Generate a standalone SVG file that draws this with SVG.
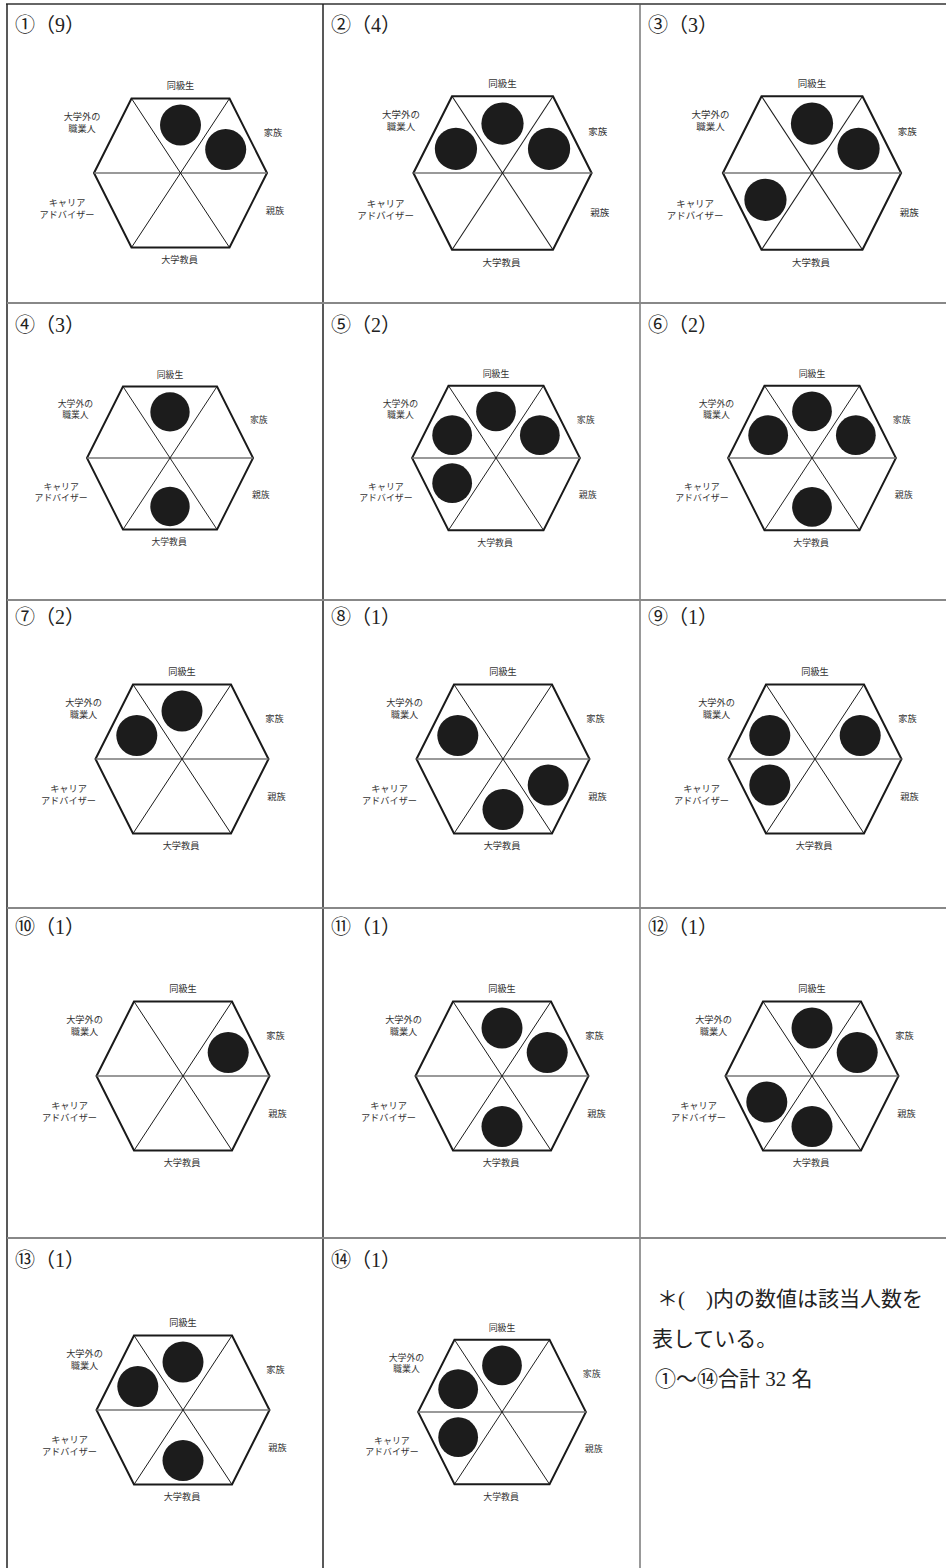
<svg xmlns="http://www.w3.org/2000/svg" xmlns:xlink="http://www.w3.org/1999/xlink" width="946" height="1568" viewBox="0 0 946 1568">
<defs>
<style>
.gv{stroke:#222;stroke-width:1.5}
.gv2{stroke:#555;stroke-width:1.2}
.gh{stroke:#888;stroke-width:2}
.gt{stroke:#333;stroke-width:1.5}
.ho{fill:none;stroke:#1a1a1a;stroke-width:2}
.hd{stroke:#1a1a1a;stroke-width:1}
.hm{stroke:#777;stroke-width:1.5}
.dot{fill:#1c1c1c}
.lbl{font-family:"Noto Sans CJK JP",sans-serif;font-size:9.2px;fill:#333;text-anchor:middle}
.cap{font-family:"Liberation Serif","Noto Sans CJK JP",serif;font-size:20px;fill:#222}
.note{font-family:"Liberation Serif","Noto Sans CJK JP",serif;font-size:21px;fill:#222}
</style>
<g id="hex">
<polygon class="ho" points="-86.5,0 -49,-74.5 49,-74.5 86.5,0 49,74.5 -49,74.5"/>
<line class="hm" x1="-86.5" y1="0" x2="86.5" y2="0"/>
<line class="hd" x1="-49" y1="-74.5" x2="49" y2="74.5"/>
<line class="hd" x1="49" y1="-74.5" x2="-49" y2="74.5"/>
</g>
</defs>
<rect width="946" height="1568" fill="#fff"/>
<g id="grid">
<line class="gt" x1="6" y1="4" x2="946" y2="4"/>
<line class="gv" x1="7" y1="4" x2="7" y2="1568"/>
<line class="gv" x1="323" y1="4" x2="323" y2="1568"/>
<line class="gv2" x1="640" y1="4" x2="640" y2="1568"/>
<line class="gh" x1="7" y1="303" x2="946" y2="303"/>
<line class="gh" x1="7" y1="600" x2="946" y2="600"/>
<line class="gh" x1="7" y1="908" x2="946" y2="908"/>
<line class="gh" x1="7" y1="1238" x2="946" y2="1238"/>
</g>

<g id="cell1">
<text class="cap" x="15" y="32">①（9）</text>
<g transform="translate(180.5,173)">
<use xlink:href="#hex"/>
<circle class="dot" cx="0" cy="-48" r="20.5"/>
<circle class="dot" cx="45.2" cy="-23.5" r="20.5"/>
<text class="lbl" x="0" y="-83.6">同級生</text>
<text class="lbl" x="-98.5" y="-53">大学外の</text>
<text class="lbl" x="-98.5" y="-41.5">職業人</text>
<text class="lbl" x="92.5" y="-36.6">家族</text>
<text class="lbl" x="-113.5" y="33">キャリア</text>
<text class="lbl" x="-113.5" y="44.5">アドバイザー</text>
<text class="lbl" x="94.5" y="41.4">親族</text>
<text class="lbl" x="-1" y="90.4">大学教員</text>
</g>
</g>

<g id="cell2">
<text class="cap" x="331" y="32">②（4）</text>
<g transform="translate(502.5,173) scale(1.03)">
<use xlink:href="#hex"/>
<circle class="dot" cx="-45.2" cy="-23.5" r="20.5"/>
<circle class="dot" cx="0" cy="-48" r="20.5"/>
<circle class="dot" cx="45.2" cy="-23.5" r="20.5"/>
<text class="lbl" x="0" y="-83.6">同級生</text>
<text class="lbl" x="-98.5" y="-53">大学外の</text>
<text class="lbl" x="-98.5" y="-41.5">職業人</text>
<text class="lbl" x="92.5" y="-36.6">家族</text>
<text class="lbl" x="-113.5" y="33">キャリア</text>
<text class="lbl" x="-113.5" y="44.5">アドバイザー</text>
<text class="lbl" x="94.5" y="41.4">親族</text>
<text class="lbl" x="-1" y="90.4">大学教員</text>
</g>
</g>

<g id="cell3">
<text class="cap" x="648" y="32">③（3）</text>
<g transform="translate(812,173) scale(1.03)">
<use xlink:href="#hex"/>
<circle class="dot" cx="0" cy="-48" r="20.5"/>
<circle class="dot" cx="45.2" cy="-23.5" r="20.5"/>
<circle class="dot" cx="-45.2" cy="26" r="20.5"/>
<text class="lbl" x="0" y="-83.6">同級生</text>
<text class="lbl" x="-98.5" y="-53">大学外の</text>
<text class="lbl" x="-98.5" y="-41.5">職業人</text>
<text class="lbl" x="92.5" y="-36.6">家族</text>
<text class="lbl" x="-113.5" y="33">キャリア</text>
<text class="lbl" x="-113.5" y="44.5">アドバイザー</text>
<text class="lbl" x="94.5" y="41.4">親族</text>
<text class="lbl" x="-1" y="90.4">大学教員</text>
</g>
</g>

<g id="cell4">
<text class="cap" x="15" y="332">④（3）</text>
<g transform="translate(170,458) scale(0.96)">
<use xlink:href="#hex"/>
<circle class="dot" cx="0" cy="-48" r="20.5"/>
<circle class="dot" cx="0" cy="50.5" r="20.5"/>
<text class="lbl" x="0" y="-83.6">同級生</text>
<text class="lbl" x="-98.5" y="-53">大学外の</text>
<text class="lbl" x="-98.5" y="-41.5">職業人</text>
<text class="lbl" x="92.5" y="-36.6">家族</text>
<text class="lbl" x="-113.5" y="33">キャリア</text>
<text class="lbl" x="-113.5" y="44.5">アドバイザー</text>
<text class="lbl" x="94.5" y="41.4">親族</text>
<text class="lbl" x="-1" y="90.4">大学教員</text>
</g>
</g>

<g id="cell5">
<text class="cap" x="331" y="332">⑤（2）</text>
<g transform="translate(496,458) scale(0.97)">
<use xlink:href="#hex"/>
<circle class="dot" cx="-45.2" cy="-23.5" r="20.5"/>
<circle class="dot" cx="0" cy="-48" r="20.5"/>
<circle class="dot" cx="45.2" cy="-23.5" r="20.5"/>
<circle class="dot" cx="-45.2" cy="26" r="20.5"/>
<text class="lbl" x="0" y="-83.6">同級生</text>
<text class="lbl" x="-98.5" y="-53">大学外の</text>
<text class="lbl" x="-98.5" y="-41.5">職業人</text>
<text class="lbl" x="92.5" y="-36.6">家族</text>
<text class="lbl" x="-113.5" y="33">キャリア</text>
<text class="lbl" x="-113.5" y="44.5">アドバイザー</text>
<text class="lbl" x="94.5" y="41.4">親族</text>
<text class="lbl" x="-1" y="90.4">大学教員</text>
</g>
</g>

<g id="cell6">
<text class="cap" x="648" y="332">⑥（2）</text>
<g transform="translate(812,458) scale(0.97)">
<use xlink:href="#hex"/>
<circle class="dot" cx="-45.2" cy="-23.5" r="20.5"/>
<circle class="dot" cx="0" cy="-48" r="20.5"/>
<circle class="dot" cx="45.2" cy="-23.5" r="20.5"/>
<circle class="dot" cx="0" cy="50.5" r="20.5"/>
<text class="lbl" x="0" y="-83.6">同級生</text>
<text class="lbl" x="-98.5" y="-53">大学外の</text>
<text class="lbl" x="-98.5" y="-41.5">職業人</text>
<text class="lbl" x="92.5" y="-36.6">家族</text>
<text class="lbl" x="-113.5" y="33">キャリア</text>
<text class="lbl" x="-113.5" y="44.5">アドバイザー</text>
<text class="lbl" x="94.5" y="41.4">親族</text>
<text class="lbl" x="-1" y="90.4">大学教員</text>
</g>
</g>

<g id="cell7">
<text class="cap" x="15" y="624">⑦（2）</text>
<g transform="translate(182,759)">
<use xlink:href="#hex"/>
<circle class="dot" cx="-45.2" cy="-23.5" r="20.5"/>
<circle class="dot" cx="0" cy="-48" r="20.5"/>
<text class="lbl" x="0" y="-83.6">同級生</text>
<text class="lbl" x="-98.5" y="-53">大学外の</text>
<text class="lbl" x="-98.5" y="-41.5">職業人</text>
<text class="lbl" x="92.5" y="-36.6">家族</text>
<text class="lbl" x="-113.5" y="33">キャリア</text>
<text class="lbl" x="-113.5" y="44.5">アドバイザー</text>
<text class="lbl" x="94.5" y="41.4">親族</text>
<text class="lbl" x="-1" y="90.4">大学教員</text>
</g>
</g>

<g id="cell8">
<text class="cap" x="331" y="624">⑧（1）</text>
<g transform="translate(503,759)">
<use xlink:href="#hex"/>
<circle class="dot" cx="-45.2" cy="-23.5" r="20.5"/>
<circle class="dot" cx="45.2" cy="26" r="20.5"/>
<circle class="dot" cx="0" cy="50.5" r="20.5"/>
<text class="lbl" x="0" y="-83.6">同級生</text>
<text class="lbl" x="-98.5" y="-53">大学外の</text>
<text class="lbl" x="-98.5" y="-41.5">職業人</text>
<text class="lbl" x="92.5" y="-36.6">家族</text>
<text class="lbl" x="-113.5" y="33">キャリア</text>
<text class="lbl" x="-113.5" y="44.5">アドバイザー</text>
<text class="lbl" x="94.5" y="41.4">親族</text>
<text class="lbl" x="-1" y="90.4">大学教員</text>
</g>
</g>

<g id="cell9">
<text class="cap" x="648" y="624">⑨（1）</text>
<g transform="translate(815,759)">
<use xlink:href="#hex"/>
<circle class="dot" cx="-45.2" cy="-23.5" r="20.5"/>
<circle class="dot" cx="45.2" cy="-23.5" r="20.5"/>
<circle class="dot" cx="-45.2" cy="26" r="20.5"/>
<text class="lbl" x="0" y="-83.6">同級生</text>
<text class="lbl" x="-98.5" y="-53">大学外の</text>
<text class="lbl" x="-98.5" y="-41.5">職業人</text>
<text class="lbl" x="92.5" y="-36.6">家族</text>
<text class="lbl" x="-113.5" y="33">キャリア</text>
<text class="lbl" x="-113.5" y="44.5">アドバイザー</text>
<text class="lbl" x="94.5" y="41.4">親族</text>
<text class="lbl" x="-1" y="90.4">大学教員</text>
</g>
</g>

<g id="cell10">
<text class="cap" x="15" y="934">⑩（1）</text>
<g transform="translate(183,1076)">
<use xlink:href="#hex"/>
<circle class="dot" cx="45.2" cy="-23.5" r="20.5"/>
<text class="lbl" x="0" y="-83.6">同級生</text>
<text class="lbl" x="-98.5" y="-53">大学外の</text>
<text class="lbl" x="-98.5" y="-41.5">職業人</text>
<text class="lbl" x="92.5" y="-36.6">家族</text>
<text class="lbl" x="-113.5" y="33">キャリア</text>
<text class="lbl" x="-113.5" y="44.5">アドバイザー</text>
<text class="lbl" x="94.5" y="41.4">親族</text>
<text class="lbl" x="-1" y="90.4">大学教員</text>
</g>
</g>

<g id="cell11">
<text class="cap" x="331" y="934">⑪（1）</text>
<g transform="translate(502,1076)">
<use xlink:href="#hex"/>
<circle class="dot" cx="0" cy="-48" r="20.5"/>
<circle class="dot" cx="45.2" cy="-23.5" r="20.5"/>
<circle class="dot" cx="0" cy="50.5" r="20.5"/>
<text class="lbl" x="0" y="-83.6">同級生</text>
<text class="lbl" x="-98.5" y="-53">大学外の</text>
<text class="lbl" x="-98.5" y="-41.5">職業人</text>
<text class="lbl" x="92.5" y="-36.6">家族</text>
<text class="lbl" x="-113.5" y="33">キャリア</text>
<text class="lbl" x="-113.5" y="44.5">アドバイザー</text>
<text class="lbl" x="94.5" y="41.4">親族</text>
<text class="lbl" x="-1" y="90.4">大学教員</text>
</g>
</g>

<g id="cell12">
<text class="cap" x="648" y="934">⑫（1）</text>
<g transform="translate(812,1076)">
<use xlink:href="#hex"/>
<circle class="dot" cx="0" cy="-48" r="20.5"/>
<circle class="dot" cx="45.2" cy="-23.5" r="20.5"/>
<circle class="dot" cx="-45.2" cy="26" r="20.5"/>
<circle class="dot" cx="0" cy="50.5" r="20.5"/>
<text class="lbl" x="0" y="-83.6">同級生</text>
<text class="lbl" x="-98.5" y="-53">大学外の</text>
<text class="lbl" x="-98.5" y="-41.5">職業人</text>
<text class="lbl" x="92.5" y="-36.6">家族</text>
<text class="lbl" x="-113.5" y="33">キャリア</text>
<text class="lbl" x="-113.5" y="44.5">アドバイザー</text>
<text class="lbl" x="94.5" y="41.4">親族</text>
<text class="lbl" x="-1" y="90.4">大学教員</text>
</g>
</g>

<g id="cell13">
<text class="cap" x="15" y="1267">⑬（1）</text>
<g transform="translate(183,1410)">
<use xlink:href="#hex"/>
<circle class="dot" cx="-45.2" cy="-23.5" r="20.5"/>
<circle class="dot" cx="0" cy="-48" r="20.5"/>
<circle class="dot" cx="0" cy="50.5" r="20.5"/>
<text class="lbl" x="0" y="-83.6">同級生</text>
<text class="lbl" x="-98.5" y="-53">大学外の</text>
<text class="lbl" x="-98.5" y="-41.5">職業人</text>
<text class="lbl" x="92.5" y="-36.6">家族</text>
<text class="lbl" x="-113.5" y="33">キャリア</text>
<text class="lbl" x="-113.5" y="44.5">アドバイザー</text>
<text class="lbl" x="94.5" y="41.4">親族</text>
<text class="lbl" x="-1" y="90.4">大学教員</text>
</g>
</g>

<g id="cell14">
<text class="cap" x="331" y="1267">⑭（1）</text>
<g transform="translate(502,1412) scale(0.97)">
<use xlink:href="#hex"/>
<circle class="dot" cx="-45.2" cy="-23.5" r="20.5"/>
<circle class="dot" cx="0" cy="-48" r="20.5"/>
<circle class="dot" cx="-45.2" cy="26" r="20.5"/>
<text class="lbl" x="0" y="-83.6">同級生</text>
<text class="lbl" x="-98.5" y="-53">大学外の</text>
<text class="lbl" x="-98.5" y="-41.5">職業人</text>
<text class="lbl" x="92.5" y="-36.6">家族</text>
<text class="lbl" x="-113.5" y="33">キャリア</text>
<text class="lbl" x="-113.5" y="44.5">アドバイザー</text>
<text class="lbl" x="94.5" y="41.4">親族</text>
<text class="lbl" x="-1" y="90.4">大学教員</text>
</g>
</g>

<g id="note">
<text class="note" x="657" y="1306">＊(　)内の数値は該当人数を</text>
<text class="note" x="652" y="1346">表している。</text>
<text class="note" x="655" y="1386">①～⑭合計 32 名</text>
</g>
</svg>
